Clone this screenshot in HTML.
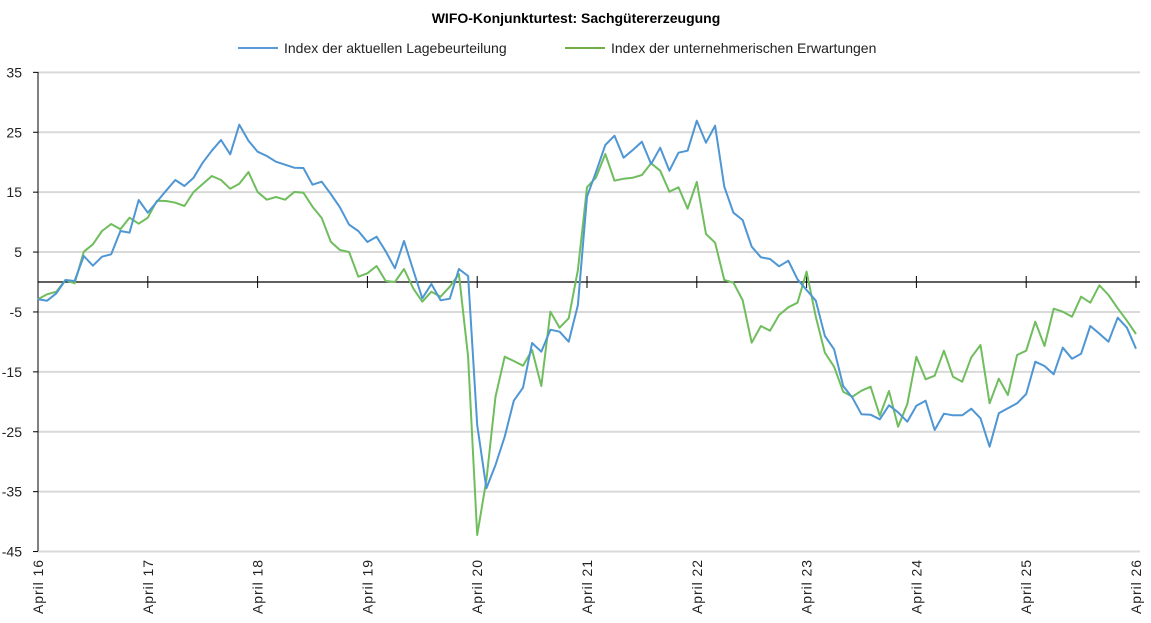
<!DOCTYPE html>
<html><head><meta charset="utf-8"><style>
html,body{margin:0;padding:0;background:#fff;}
svg{display:block;font-family:"Liberation Sans",sans-serif;}
</style></head><body>
<svg id="c" width="1151" height="623" viewBox="0 0 1151 623" xmlns="http://www.w3.org/2000/svg">
<text x="576" y="23" text-anchor="middle" font-size="14" font-weight="bold" fill="#000">WIFO-Konjunkturtest: Sachgütererzeugung</text>
<line x1="238" y1="48" x2="278" y2="48" stroke="#5B9BD5" stroke-width="2"/>
<text x="284" y="53" font-size="14" fill="#222">Index der aktuellen Lagebeurteilung</text>
<line x1="565" y1="48" x2="605" y2="48" stroke="#70AD47" stroke-width="2"/>
<text x="611" y="53" font-size="14" fill="#222">Index der unternehmerischen Erwartungen</text>
<g id="grid"></g>
<polyline id="g" fill="none" stroke="#70BD5E" stroke-width="2" stroke-linejoin="round"/>
<polyline id="b" fill="none" stroke="#4E96D4" stroke-width="2" stroke-linejoin="round"/>
</svg>
<script>
var ns="http://www.w3.org/2000/svg",grid=document.getElementById("grid");
function el(t,a,txt){var e=document.createElementNS(ns,t);for(var k in a)e.setAttribute(k,a[k]);if(txt)e.textContent=txt;grid.appendChild(e);return e;}
for(var v=35;v>=-45;v-=10){var y=282-v*5.99;
el("line",{x1:38,x2:1140,y1:y,y2:y,stroke:"#d9d9d9","stroke-width":2});
el("line",{x1:33,x2:38,y1:y,y2:y,stroke:"#000","stroke-width":1});
el("text",{x:22,y:y+5,"font-size":14,"text-anchor":"end",fill:"#222"},String(v));}
el("line",{x1:38,x2:38,y1:72,y2:551,stroke:"#000","stroke-width":1});
el("line",{x1:38,x2:1140,y1:282,y2:282,stroke:"#000","stroke-width":1.3});
for(var i=0;i<=10;i++){var x=38+i*12*9.15;
el("line",{x1:x,x2:x,y1:276,y2:288,stroke:"#000","stroke-width":1});
el("text",{x:0,y:0,"font-size":14,"text-anchor":"end",fill:"#222",textLength:54,transform:"translate("+(x+5)+",560) rotate(-90)"},"April "+(16+i));}
var B=[299.3,300.7,293.3,280,281,256,265.7,256.7,254.3,231,232.7,200,212.7,201.7,190.7,180,186,177.7,162.7,150.7,140,154.3,124.7,140.7,151.7,156,161.7,164.7,167.7,168,184.7,181.7,194,207.3,224.7,231,242,236.7,251.3,268.3,241,270,298.3,284,300.3,298.7,269,276,425,488.3,465,436.7,400.7,387.7,343,351.7,329.7,331.7,341.7,305,196.7,171.7,145,135.7,157.7,150,141.7,164,147.7,170.7,152.7,150.7,120.7,142.7,125.7,186.7,212.7,220,246.7,257.3,259,266.3,260.7,279.3,290,300.7,336,349.3,386,397.7,414.3,414.7,419.3,405.3,412.3,421.7,405.7,400.7,430,413.7,415.3,415.3,408.7,418.3,446.7,413.3,408.3,403.3,394,361.7,366,374.3,347.7,358.7,353.7,326,333.7,341.7,317.7,327.7,348.7];
var G=[299.3,294.3,291.7,280,283.3,251.7,244.3,231,224,229.3,217.7,223.7,217.7,200.7,201,202.7,206,192,184,176,180,188.7,183.7,172,192,199.7,197,199.7,192,192.7,206.7,218,241.7,250,252,276.7,273.3,266,281,282,269,288.3,301.7,291.7,296.7,286.7,274,356.7,535,480,396.7,356.7,361,365.7,350,386,311.7,327.7,318.3,270,187.3,177.3,154,180.7,178.7,177.7,175,163.3,170.7,191.7,187.3,208.7,182,234,242.7,280,282.7,300,342.7,326,330.7,315,307.3,302.7,271.7,316.7,352.7,366.7,391.7,396.7,390.7,386.7,415.7,391,426.7,404,356.7,379.3,375.7,350.7,376.7,381.7,357.3,345,403.3,378.7,395,355,350.7,321.7,346,308.7,311.7,316.7,296.7,302.7,285.3,295,308.3,320.7,334];
function pts(a){return a.map(function(y,i){return (38+i*9.15).toFixed(1)+","+y}).join(" ");}
document.getElementById("b").setAttribute("points",pts(B));
document.getElementById("g").setAttribute("points",pts(G));
</script>
</body></html>
